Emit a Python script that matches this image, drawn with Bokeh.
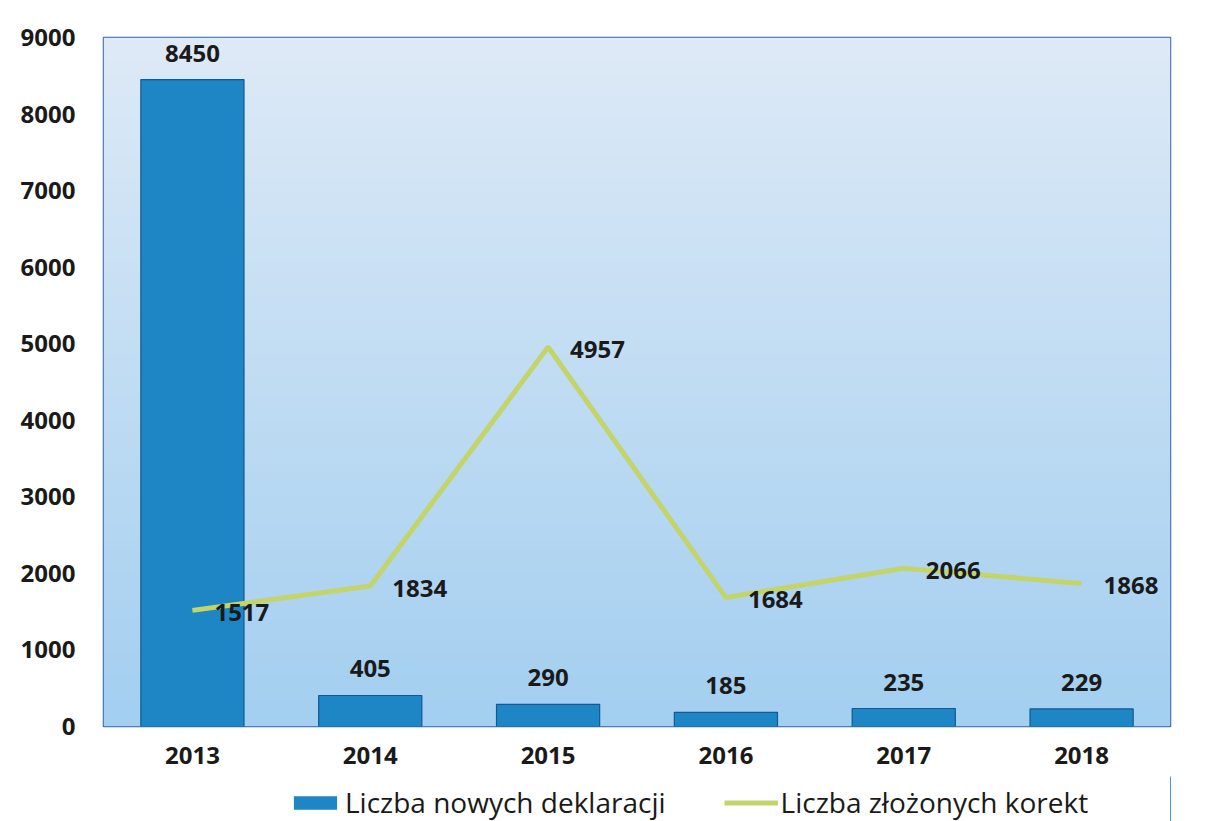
import numpy as np
from bokeh.plotting import figure
from bokeh.layouts import column
from bokeh.models import ColumnDataSource, LabelSet, Legend, LegendItem, FixedTicker
from bokeh.core.properties import value
from bokeh.embed import file_html
from bokeh.resources import INLINE

years = ["2013", "2014", "2015", "2016", "2017", "2018"]
new_declarations = [8450, 405, 290, 185, 235, 229]
corrections = [1517, 1834, 4957, 1684, 2066, 1868]
y_ticks = [0, 1000, 2000, 3000, 4000, 5000, 6000, 7000, 8000, 9000]

xs = list(range(1, len(years) + 1))
src = ColumnDataSource(dict(
    x=xs, year=years, bars=new_declarations, line=corrections,
    bar_lbl=[str(v) for v in new_declarations],
    line_lbl=[str(v) for v in corrections],
))

BAR_FILL = "#1f86c6"
BAR_LINE = "#0f5a92"
LINE_COL = "#c3d46a"

p = figure(frame_width=1067, frame_height=689, x_range=(0.5, 6.5), y_range=(0, 9000),
           output_backend="svg", toolbar_location=None,
           min_border_left=103, min_border_right=30, min_border_top=37, min_border_bottom=50)

# background gradient (style only)
n = 200
t = np.linspace(0, 1, n)[:, None]  # 0 bottom -> 1 top
bottom = np.array([163, 207, 240])
top = np.array([222, 234, 247])
cols = (bottom + (top - bottom) * t).astype(np.uint32)
img = np.empty((n, 1), dtype=np.uint32)
view = img.view(dtype=np.uint8).reshape((n, 1, 4))
view[:, :, 0] = cols[:, 0:1]
view[:, :, 1] = cols[:, 1:2]
view[:, :, 2] = cols[:, 2:3]
view[:, :, 3] = 255
p.image_rgba(image=[img], x=0.5, y=0, dw=6, dh=9000)

p.vbar(x="x", top="bars", width=0.58, source=src,
       fill_color=BAR_FILL, line_color=BAR_LINE, line_width=1.2)
p.line(x="x", y="line", source=src, line_color=LINE_COL, line_width=5)

p.add_layout(LabelSet(x="x", y="bars", text="bar_lbl", source=src, text_align="center",
                      text_baseline="alphabetic", y_offset=18, text_font=value("Open Sans"),
                      text_font_style="bold", text_font_size="24px", text_color="#1a1a1a"))
p.add_layout(LabelSet(x="x", y="line", text="line_lbl", source=src, text_align="left",
                      text_baseline="middle", x_offset=22, y_offset=-2, text_font=value("Open Sans"),
                      text_font_style="bold", text_font_size="24px", text_color="#1a1a1a"))

p.xgrid.visible = False
p.ygrid.visible = False
p.background_fill_color = "#cfe3f5"
p.border_fill_color = "white"
p.outline_line_color = "#2f63ad"
p.outline_line_width = 1.5

p.xaxis.ticker = FixedTicker(ticks=xs)
p.xaxis.major_label_overrides = {x: y for x, y in zip(xs, years)}
p.yaxis.ticker = FixedTicker(ticks=y_ticks)
for ax in (p.xaxis, p.yaxis):
    ax.axis_line_color = None
    ax.major_tick_line_color = None
    ax.minor_tick_line_color = None
    ax.major_tick_out = 0
    ax.major_tick_in = 0
    ax.minor_tick_out = 0
    ax.major_label_text_font = "Open Sans"
    ax.major_label_text_font_style = "bold"
    ax.major_label_text_font_size = "24px"
    ax.major_label_text_color = "#1a1a1a"
p.xaxis.major_label_standoff = 20
p.yaxis.major_label_standoff = 28

# legend strip below the chart (its glyphs lie outside its visible ranges)
lg = figure(width=1200, height=45, x_range=(-20, -19), y_range=(0, 1),
            x_axis_type=None, y_axis_type=None, output_backend="svg",
            toolbar_location=None, min_border=0)
lg.xgrid.visible = False
lg.ygrid.visible = False
lg.outline_line_color = None
lg.background_fill_color = "white"
lb = lg.vbar(x="x", top="bars", width=0.58, source=src,
             fill_color=BAR_FILL, line_color=None)
ll = lg.line(x="x", y="line", source=src, line_color=LINE_COL, line_width=5)
legend = Legend(items=[LegendItem(label="Liczba nowych deklaracji", renderers=[lb]),
                       LegendItem(label="Liczba złożonych korekt", renderers=[ll])],
                orientation="horizontal", location=(185, 0),
                label_text_font="Open Sans", label_text_font_size="28px",
                label_text_color="#1a1a1a", glyph_width=54, glyph_height=17,
                border_line_color=None, background_fill_alpha=0,
                spacing=58, padding=0, margin=0, label_standoff=3)
lg.add_layout(legend, "center")

layout = column(p, lg, spacing=0)
open("out.html", "w").write(file_html(layout, INLINE))
